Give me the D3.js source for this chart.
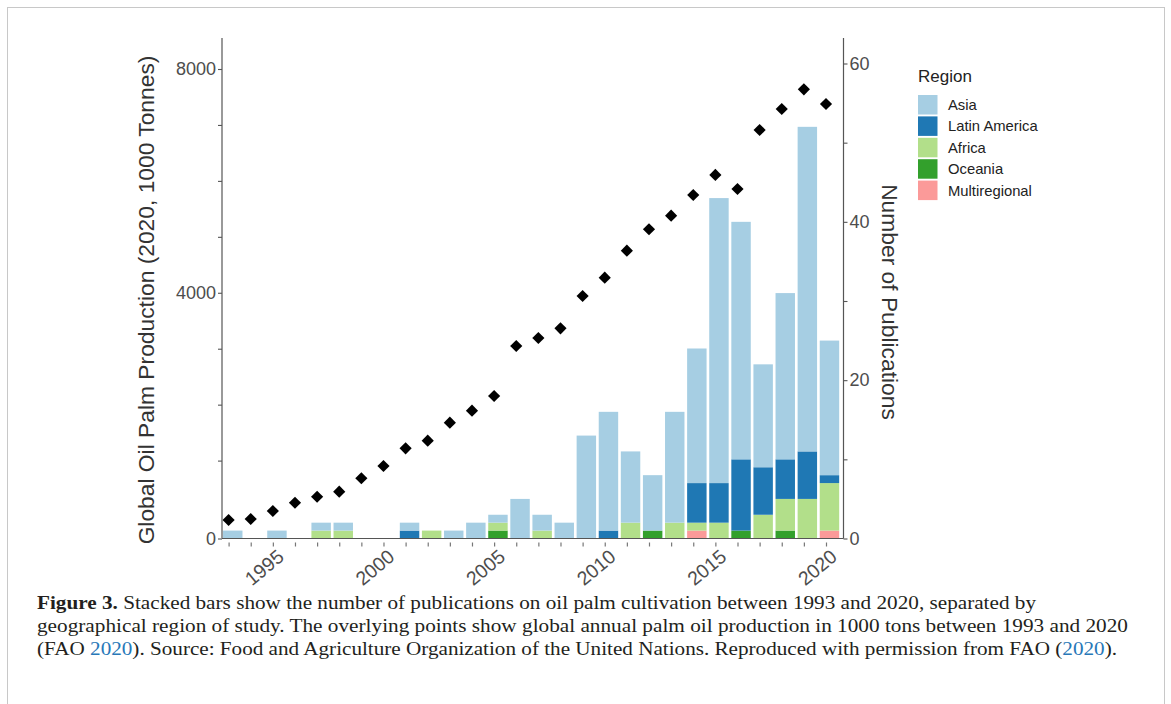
<!DOCTYPE html>
<html>
<head>
<meta charset="utf-8">
<script src="https://cdn.jsdelivr.net/npm/d3@7"></script>
<style>
  html, body { margin: 0; padding: 0; background: #fff; }
  svg { display: block; }
</style>
</head>
<body>
<svg id="fig" width="1171" height="704"></svg>
<script>
// Publication year for every bar / point
const years = [1993, 1994, 1995, 1996, 1997, 1998, 1999, 2000, 2001, 2002, 2003, 2004, 2005, 2006,
               2007, 2008, 2009, 2010, 2011, 2012, 2013, 2014, 2015, 2016, 2017, 2018, 2019, 2020];

// Number of publications per region of study
const asia          = [1, 0, 1, 0, 1, 1, 0, 0, 1, 0, 1, 2, 1, 5, 2, 2, 13, 15, 9, 7, 14, 17, 36, 30, 13, 21, 41, 17];
const latinAmerica  = [0, 0, 0, 0, 0, 0, 0, 0, 1, 0, 0, 0, 0, 0, 0, 0, 0, 1, 0, 0, 0, 5, 5, 9, 6, 5, 6, 1];
const africa        = [0, 0, 0, 0, 1, 1, 0, 0, 0, 1, 0, 0, 1, 0, 1, 0, 0, 0, 2, 0, 2, 1, 2, 0, 3, 4, 5, 6];
const oceania       = [0, 0, 0, 0, 0, 0, 0, 0, 0, 0, 0, 0, 1, 0, 0, 0, 0, 0, 0, 1, 0, 0, 0, 1, 0, 1, 0, 0];
const multiregional = [0, 0, 0, 0, 0, 0, 0, 0, 0, 0, 0, 0, 0, 0, 0, 0, 0, 0, 0, 0, 0, 1, 0, 0, 0, 0, 0, 1];

// Global oil palm production (1000 tonnes)
const production = [238, 250, 353, 459, 536, 601, 773, 931, 1220, 1356, 1678, 1892, 2155, 3049,
                    3192, 3365, 3942, 4270, 4752, 5135, 5378, 5748, 6106, 5855, 6910, 7285, 7637, 7374];

// Legend order (top to bottom) and colours
const regionNames  = ["Asia", "Latin America", "Africa", "Oceania", "Multiregional"];
const regionColors = ["#a6cee3", "#1f78b4", "#b2df8a", "#33a02c", "#fb9a99"];

// Axis ticks
const prodTicks      = [0, 4000, 8000];
const prodMinorTicks = [1000, 2000, 3000, 5000, 6000, 7000];
const pubTicks       = [0, 20, 40, 60];
const pubMinorTicks  = [10, 30, 50];
const yearLabels     = [1995, 2000, 2005, 2010, 2015, 2020];

const svg = d3.select("#fig");
const sans = "'Liberation Sans', Arial, Helvetica, sans-serif";
const serif = "'Liberation Serif', 'Times New Roman', serif";

// figure frame
svg.append("rect").attr("x", 7.5).attr("y", 7.5).attr("width", 1157).attr("height", 710)
  .attr("fill", "#fff").attr("stroke", "#c8c8c8").attr("stroke-width", 1);

// plot geometry
const plotLeft = 222, plotRight = 843.5, plotTop = 38, plotBottom = 538.5;

const xBand = d3.scaleBand().domain(years).range([221.7, 840.5]).paddingInner(0.12).paddingOuter(0.06);
const xPoint = d3.scalePoint().domain(years).range([228.6, 826]);
const yPub = d3.scaleLinear().domain([0, 60]).range([plotBottom, 63.5]);
const yProd = d3.scaleLinear().domain([0, 1000, 8000]).range([plotBottom, 460.6, 69]);

// stacked bars (bottom to top: Multiregional, Oceania, Africa, Latin America, Asia)
const rows = years.map((y, i) => ({
  year: y,
  "Asia": asia[i], "Latin America": latinAmerica[i], "Africa": africa[i],
  "Oceania": oceania[i], "Multiregional": multiregional[i]
}));
const stackKeys = ["Multiregional", "Oceania", "Africa", "Latin America", "Asia"];
const color = d3.scaleOrdinal().domain(regionNames).range(regionColors);
const series = d3.stack().keys(stackKeys)(rows);

svg.append("g").selectAll("g").data(series).join("g")
  .attr("fill", d => color(d.key))
  .selectAll("rect").data(d => d.filter(s => s[1] > s[0])).join("rect")
  .attr("x", d => xBand(d.data.year))
  .attr("width", xBand.bandwidth())
  .attr("y", d => yPub(d[1]))
  .attr("height", d => yPub(d[0]) - yPub(d[1]));

// production points
const diamond = d3.symbol().type(d3.symbolSquare).size(74);
svg.append("g").selectAll("path").data(years).join("path")
  .attr("d", diamond)
  .attr("transform", (d, i) => `translate(${xPoint(d)},${yProd(production[i])}) rotate(45)`)
  .attr("fill", "#000");

// axis spines
const spine = "#555";
svg.append("line").attr("x1", plotLeft).attr("x2", plotLeft).attr("y1", plotTop).attr("y2", plotBottom)
  .attr("stroke", spine).attr("stroke-width", 1.2);
svg.append("line").attr("x1", plotRight).attr("x2", plotRight).attr("y1", plotTop).attr("y2", plotBottom)
  .attr("stroke", spine).attr("stroke-width", 1.2);
svg.append("line").attr("x1", plotLeft).attr("x2", plotRight).attr("y1", plotBottom).attr("y2", plotBottom)
  .attr("stroke", spine).attr("stroke-width", 1.2);

function styleAxis(g) {
  g.select(".domain").remove();
  g.selectAll(".tick line").attr("stroke", spine).attr("stroke-width", 1.1);
  g.selectAll(".tick text").attr("fill", "#4d4d4d").attr("font-family", sans).attr("font-size", 18);
}

// left axis: production
svg.append("g").attr("transform", `translate(${plotLeft},0)`)
  .call(d3.axisLeft(yProd).tickValues(prodTicks).tickSize(4).tickPadding(2).tickFormat(d3.format("d")))
  .call(styleAxis);
svg.append("g").attr("transform", `translate(${plotLeft},0)`)
  .call(d3.axisLeft(yProd).tickValues(prodMinorTicks).tickSize(4).tickFormat(""))
  .call(styleAxis);

// right axis: publications
svg.append("g").attr("transform", `translate(${plotRight},0)`)
  .call(d3.axisRight(yPub).tickValues(pubTicks).tickSize(4).tickPadding(2))
  .call(styleAxis);
svg.append("g").attr("transform", `translate(${plotRight},0)`)
  .call(d3.axisRight(yPub).tickValues(pubMinorTicks).tickSize(4).tickFormat(""))
  .call(styleAxis);

// bottom axis: small detached tick marks for each year
const xAxisG = svg.append("g").attr("transform", `translate(0,${plotBottom})`)
  .call(d3.axisBottom(xPoint).tickSize(8).tickFormat(""));
xAxisG.select(".domain").remove();
xAxisG.selectAll(".tick line").attr("y1", 4).attr("y2", 8).attr("stroke", "#777").attr("stroke-width", 1.2);

// rotated year labels
svg.append("g").selectAll("text").data(yearLabels).join("text")
  .attr("transform", d => `translate(${xPoint(d) + 8},${plotBottom + 15}) rotate(-40)`)
  .attr("text-anchor", "end")
  .attr("dy", "0.35em")
  .attr("fill", "#4d4d4d").attr("font-family", sans).attr("font-size", 19.5)
  .text(d => d);

// axis titles
svg.append("text")
  .attr("transform", `translate(146,300) rotate(-90)`)
  .attr("text-anchor", "middle").attr("dominant-baseline", "central")
  .attr("fill", "#333").attr("font-family", sans).attr("font-size", 22.8)
  .text("Global Oil Palm Production (2020, 1000 Tonnes)");
svg.append("text")
  .attr("transform", `translate(890,302) rotate(90)`)
  .attr("text-anchor", "middle").attr("dominant-baseline", "central")
  .attr("fill", "#333").attr("font-family", sans).attr("font-size", 22.8)
  .text("Number of Publications");

// legend
const legend = svg.append("g").attr("transform", "translate(918,0)");
legend.append("text").attr("x", 0).attr("y", 82)
  .attr("fill", "#222").attr("font-family", sans).attr("font-size", 17).text("Region");
const items = legend.selectAll("g.item").data(regionNames).join("g")
  .attr("class", "item")
  .attr("transform", (d, i) => `translate(0,${95 + i * 21.4})`);
items.append("rect").attr("width", 19.5).attr("height", 19.5).attr("fill", d => color(d));
items.append("text").attr("x", 30).attr("y", 10).attr("dominant-baseline", "central")
  .attr("fill", "#222").attr("font-family", sans).attr("font-size", 14.8).text(d => d);

// caption
const captionLines = [
  { y: 609, len: 999, parts: [
    { t: "Figure 3.", bold: true },
    { t: " Stacked bars show the number of publications on oil palm cultivation between 1993 and 2020, separated by" }] },
  { y: 632, len: 1091, parts: [
    { t: "geographical region of study. The overlying points show global annual palm oil production in 1000 tons between 1993 and 2020" }] },
  { y: 654.5, len: 1080, parts: [
    { t: "(FAO " }, { t: "2020", link: true },
    { t: "). Source: Food and Agriculture Organization of the United Nations. Reproduced with permission from FAO (" },
    { t: "2020", link: true }, { t: ")." }] }
];
const cap = svg.append("g");
captionLines.forEach(line => {
  const txt = cap.append("text").attr("x", 37).attr("y", line.y)
    .attr("font-family", serif).attr("font-size", 19).attr("fill", "#231f20")
    .attr("textLength", line.len).attr("lengthAdjust", "spacingAndGlyphs")
    .attr("xml:space", "preserve");
  line.parts.forEach(p => {
    txt.append("tspan").text(p.t)
      .attr("font-weight", p.bold ? "bold" : null)
      .attr("fill", p.link ? "#2878b8" : null);
  });
});
</script>
</body>
</html>
